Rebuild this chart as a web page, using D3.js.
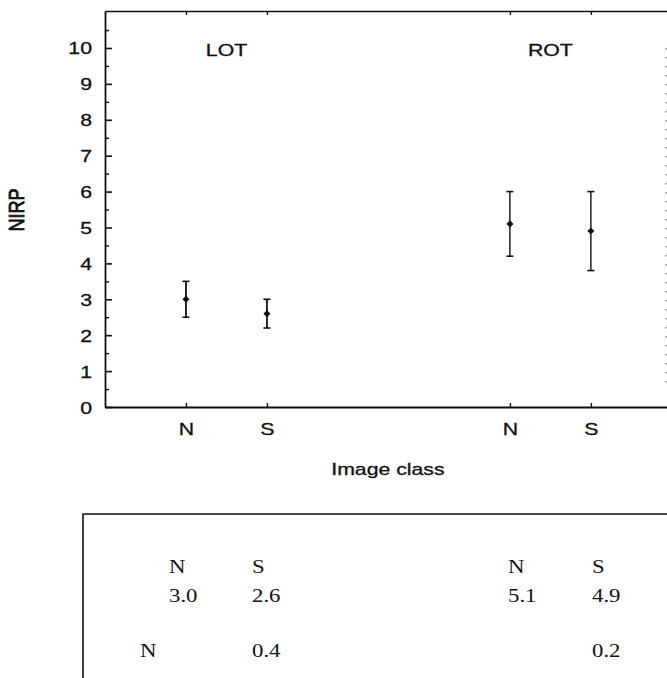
<!DOCTYPE html>
<html>
<head>
<meta charset="utf-8">
<script src="https://cdn.jsdelivr.net/npm/d3@7/dist/d3.min.js"></script>
<style>
  html, body { margin: 0; padding: 0; background: #fff; }
  svg { display: block; }
  text { fill: #111; }
  .sans { stroke: #111; stroke-width: 0.3px; }
</style>
</head>
<body>
<svg id="chart" width="667" height="678"></svg>
<script>
// NIRP by image class, for the LOT and ROT conditions
const groups = ["LOT", "ROT"];
const categories = ["N", "S", "N", "S"];
const groupOf = [0, 0, 1, 1];
const slots = [1, 2, 5, 6];              // slot of each class along the x axis
const means = [3.0, 2.6, 5.1, 4.9];
const lower = [2.5, 2.2, 4.2, 3.8];
const upper = [3.5, 3.0, 6.0, 6.0];
const differences = [0.4, 0.2];         // N minus S, per condition
const yTicks = d3.range(0, 11);
const yMinorTicks = d3.range(0.5, 11, 1);

const svg = d3.select("#chart");
const ink = "#111";
const SX = 1.25;   // horizontal stretch of the lettering
const SANS = "'Liberation Sans', Arial, sans-serif";

const x = d3.scaleLinear().domain([0, 6.94]).range([105, 667]);
const y = d3.scaleLinear().domain([0, 11.03]).range([407, 11]);

function label(parent, px, py, str, o = {}) {
  const t = parent.append("text")
    .attr("transform", `translate(${px},${py}) scale(${o.sx || SX},1)` + (o.rotate ? ` rotate(${o.rotate})` : ""))
    .attr("text-anchor", o.anchor || "middle")
    .attr("class", o.family ? null : "sans")
    .style("font-family", o.family || SANS)
    .style("font-size", (o.size || 17) + "px")
    .text(str);
  return t;
}

const plot = svg.append("g");

// left axis: major ticks with labels, minor ticks at the halves
const yAxis = plot.append("g")
  .attr("transform", `translate(${x(0)},0)`)
  .call(d3.axisLeft(y).tickValues(yTicks).tickSize(-7).tickSizeOuter(0));
yAxis.select(".domain").attr("stroke", ink).attr("stroke-width", 1.8);
yAxis.selectAll(".tick line").attr("stroke", ink).attr("stroke-width", 1.6);
yAxis.selectAll(".tick text")
  .attr("x", null).attr("dy", null)
  .attr("class", "sans")
  .attr("transform", `translate(-13,6) scale(${SX},1)`)
  .attr("text-anchor", "end")
  .style("font-family", SANS)
  .style("font-size", "17px")
  .attr("fill", ink);

const yMinor = plot.append("g")
  .attr("transform", `translate(${x(0)},0)`)
  .call(d3.axisLeft(y).tickValues(yMinorTicks).tickSize(-4).tickFormat(""));
yMinor.select(".domain").remove();
yMinor.selectAll(".tick line").attr("stroke", ink).attr("stroke-width", 1.4);

// bottom axis with class labels
const xAxis = plot.append("g")
  .attr("transform", `translate(0,${y(0)})`)
  .call(d3.axisBottom(x).tickValues(slots).tickSize(-4).tickSizeOuter(0)
    .tickFormat((d, i) => categories[i]));
xAxis.select(".domain").attr("stroke", ink).attr("stroke-width", 2);
xAxis.selectAll(".tick line").attr("stroke", ink).attr("stroke-width", 1.4);
xAxis.selectAll(".tick text")
  .attr("y", null).attr("dy", null)
  .attr("class", "sans")
  .attr("transform", `translate(0,28) scale(${SX},1)`)
  .style("font-family", SANS)
  .style("font-size", "17px")
  .attr("fill", ink);

// top frame line with matching ticks
const xTop = plot.append("g")
  .attr("transform", `translate(0,${y(11.03)})`)
  .call(d3.axisTop(x).tickValues(slots).tickSize(-4).tickSizeOuter(0).tickFormat(""));
xTop.select(".domain").attr("stroke", ink).attr("stroke-width", 1.6);
xTop.selectAll(".tick line").attr("stroke", ink).attr("stroke-width", 1.4);

// faint right edge
plot.append("line")
  .attr("x1", x(6.94) - 1).attr("x2", x(6.94) - 1)
  .attr("y1", y(10)).attr("y2", y(0.5))
  .attr("stroke", "#555").attr("stroke-width", 1)
  .attr("stroke-dasharray", "1.5 7.5");

// condition labels centred over their classes
groups.forEach((g, gi) => {
  const xs = slots.filter((s, i) => groupOf[i] === gi);
  label(plot, x(d3.mean(xs)), y(10) + 8, g);
});

// error bars and means
const bars = plot.selectAll(".bar").data(means).join("g").attr("class", "bar");
bars.append("line")
  .attr("x1", (d, i) => x(slots[i])).attr("x2", (d, i) => x(slots[i]))
  .attr("y1", (d, i) => y(lower[i])).attr("y2", (d, i) => y(upper[i]))
  .attr("stroke", ink).attr("stroke-width", (d, i) => groupOf[i] === 0 ? 1.8 : 1.4);
[lower, upper].forEach(arr => {
  bars.append("line")
    .attr("x1", (d, i) => x(slots[i]) - 3.5).attr("x2", (d, i) => x(slots[i]) + 3.5)
    .attr("y1", (d, i) => y(arr[i])).attr("y2", (d, i) => y(arr[i]))
    .attr("stroke", ink).attr("stroke-width", 1.6);
});
bars.append("path")
  .attr("transform", (d, i) => `translate(${x(slots[i])},${y(d)})`)
  .attr("d", d3.symbol(d3.symbolDiamond2, 32)())
  .attr("fill", ink);

// axis titles
label(svg, x(3.5) - 0.5, 475, "Image class");
label(svg, 24, 210, "NIRP", { rotate: -90, size: 18 }).style("stroke-width", "0.7px");

// summary table below the chart
const table = svg.append("g");
table.append("path")
  .attr("d", "M83,678 V514 H667")
  .attr("fill", "none").attr("stroke", ink).attr("stroke-width", 1.6);

const serif = "'Liberation Serif', 'Times New Roman', serif";
const colX = [169, 252, 508, 592];
const rowY = [573, 602, 657];
const tOpt = { anchor: "start", family: serif, size: 19, sx: 1.2 };
categories.forEach((c, i) => label(table, colX[i], rowY[0], c, tOpt));
means.forEach((m, i) => label(table, colX[i], rowY[1], m.toFixed(1), tOpt));
label(table, 140, rowY[2], "N", tOpt);
differences.forEach((dv, gi) => label(table, colX[gi * 2 + 1], rowY[2], dv.toFixed(1), tOpt));
</script>
</body>
</html>
